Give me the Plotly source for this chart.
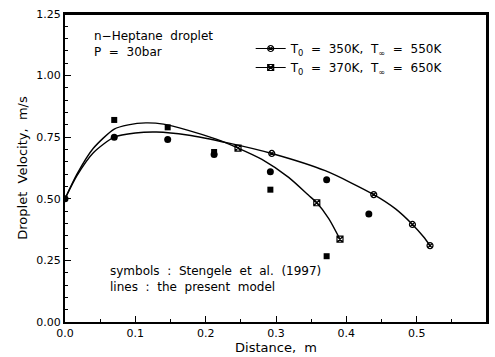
import plotly.graph_objects as go

# ---- Data ----
# Model line, T0 = 350K, Tinf = 550K
model_350_x = [0.0, 0.017, 0.04, 0.07, 0.1, 0.13, 0.174, 0.233,
               0.294, 0.37, 0.439, 0.47, 0.494, 0.51, 0.519]
model_350_y = [0.5, 0.594, 0.686, 0.75, 0.767, 0.771, 0.759, 0.726,
               0.684, 0.614, 0.517, 0.459, 0.396, 0.345, 0.31]
mark_350_x = [0.294, 0.439, 0.494, 0.519]
mark_350_y = [0.684, 0.517, 0.396, 0.31]

# Model line, T0 = 370K, Tinf = 650K
model_370_x = [0.0, 0.017, 0.04, 0.07, 0.09, 0.115, 0.14, 0.174, 0.215, 0.246,
               0.28, 0.318, 0.346, 0.358, 0.375, 0.391]
model_370_y = [0.5, 0.6, 0.704, 0.783, 0.8, 0.808, 0.803, 0.779, 0.742, 0.706,
               0.66, 0.587, 0.515, 0.484, 0.42, 0.336]
mark_370_x = [0.246, 0.358, 0.391]
mark_370_y = [0.706, 0.484, 0.336]

# Experimental symbols: Stengele et al. (1997)
exp_350_x = [0.0, 0.07, 0.146, 0.212, 0.292, 0.372, 0.432]
exp_350_y = [0.5, 0.75, 0.741, 0.68, 0.61, 0.577, 0.438]
exp_370_x = [0.07, 0.146, 0.212, 0.292, 0.372]
exp_370_y = [0.82, 0.79, 0.69, 0.537, 0.267]

NB = "\u00a0"
legend_350 = f"T<sub>0</sub>{NB*2}={NB*2}350K,{NB}{NB}T<sub>∞</sub>{NB*2}={NB*2}550K"
legend_370 = f"T<sub>0</sub>{NB*2}={NB*2}370K,{NB}{NB}T<sub>∞</sub>{NB*2}={NB*2}650K"
title_text = f"n−Heptane{NB}{NB}droplet<br>P{NB*2}={NB*2}30bar"
source_text = f"symbols{NB*2}:{NB*2}Stengele{NB*2}et{NB*2}al.{NB*2}(1997)<br>lines{NB*2}:{NB*2}the{NB*2}present{NB*2}model"

x_ticks = [0.0, 0.1, 0.2, 0.3, 0.4, 0.5, 0.6]
y_ticks = [0.0, 0.25, 0.5, 0.75, 1.0, 1.25]

FONT = "DejaVu Sans"
BLACK = "#000000"

fig = go.Figure()

line_style = dict(color=BLACK, width=1.4, shape="spline", smoothing=0.7)
fig.add_trace(go.Scatter(x=model_350_x, y=model_350_y, mode="lines", line=line_style,
                         showlegend=False, hoverinfo="skip"))
fig.add_trace(go.Scatter(x=model_370_x, y=model_370_y, mode="lines", line=line_style,
                         showlegend=False, hoverinfo="skip"))
fig.add_trace(go.Scatter(x=mark_350_x, y=mark_350_y, mode="markers",
                         marker=dict(symbol="circle-x-open", size=6, color=BLACK, line=dict(width=1.2)),
                         showlegend=False))
fig.add_trace(go.Scatter(x=mark_370_x, y=mark_370_y, mode="markers",
                         marker=dict(symbol="square-x-open", size=6, color=BLACK, line=dict(width=1.2)),
                         showlegend=False))
fig.add_trace(go.Scatter(x=exp_350_x, y=exp_350_y, mode="markers",
                         marker=dict(symbol="circle", size=7, color=BLACK), showlegend=False))
fig.add_trace(go.Scatter(x=exp_370_x, y=exp_370_y, mode="markers",
                         marker=dict(symbol="square", size=6, color=BLACK), showlegend=False))

fig.add_trace(go.Scatter(x=[None], y=[None], mode="lines+markers", name=legend_350,
                         line=dict(color=BLACK, width=1.2),
                         marker=dict(symbol="circle-x-open", size=6, color=BLACK, line=dict(width=1.2))))
fig.add_trace(go.Scatter(x=[None], y=[None], mode="lines+markers", name=legend_370,
                         line=dict(color=BLACK, width=1.2),
                         marker=dict(symbol="square-x-open", size=6, color=BLACK, line=dict(width=1.2))))

fig.add_annotation(x=0.038, y=1.129, xref="x", yref="y", xanchor="left", yanchor="middle",
                   text=title_text, showarrow=False, align="left",
                   font=dict(family=FONT, size=12, color=BLACK))
fig.add_annotation(x=0.061, y=0.173, xref="x", yref="y", xanchor="left", yanchor="middle",
                   text=source_text, showarrow=False, align="left",
                   font=dict(family=FONT, size=12, color=BLACK))

axis_common = dict(showline=True, linecolor=BLACK, linewidth=2, mirror=True, ticks="inside",
                   tickcolor=BLACK, tickwidth=1.2, ticklen=6, showgrid=False, zeroline=False,
                   tickfont=dict(family=FONT, size=11, color=BLACK))

fig.update_xaxes(range=[0, 0.6], tickvals=x_ticks, tickformat=".1f",
                 minor=dict(dtick=0.05, ticks="inside", ticklen=3, tickcolor=BLACK, tickwidth=1),
                 title=dict(text=f"Distance,{NB*2}m", font=dict(family=FONT, size=13, color=BLACK), standoff=2),
                 **axis_common)
fig.update_yaxes(range=[0, 1.25], tickvals=y_ticks, tickformat=".2f",
                 minor=dict(dtick=0.05, ticks="inside", ticklen=3, tickcolor=BLACK, tickwidth=1),
                 title=dict(text=f"Droplet{NB*2}Velocity,{NB*2}m/s", font=dict(family=FONT, size=13, color=BLACK), standoff=6),
                 **axis_common)

fig.update_layout(
    width=495, height=357,
    margin=dict(l=65, r=6, t=14, b=29),
    paper_bgcolor="white", plot_bgcolor="white",
    font=dict(family=FONT, size=12, color=BLACK),
    legend=dict(x=0.44, y=0.935, xanchor="left", yanchor="top", bgcolor="rgba(0,0,0,0)",
                font=dict(family=FONT, size=12, color=BLACK), tracegroupgap=0, itemwidth=30),
)
fig.add_shape(type="line", xref="paper", yref="paper", x0=0, x1=1, y0=1, y1=1,
              line=dict(color=BLACK, width=2), layer="above")
fig.add_shape(type="line", xref="paper", yref="paper", x0=1, x1=1, y0=0, y1=1,
              line=dict(color=BLACK, width=2), layer="above")

fig.write_html("out.html")
